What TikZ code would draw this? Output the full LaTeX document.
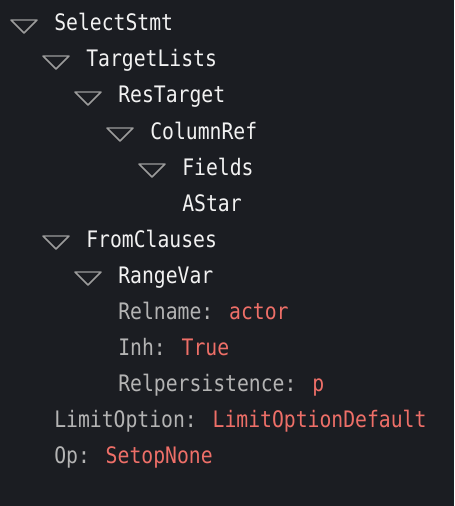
\documentclass[tikz,border=0pt]{standalone}
\usepackage{fontspec}
\newfontfamily\codefont{DejaVu Sans Mono}
\definecolor{bgdark}{HTML}{1B1D22}
\definecolor{nodewhite}{HTML}{F2F2F2}
\definecolor{keygray}{HTML}{B4B4B4}
\definecolor{valred}{HTML}{EE6F68}
\definecolor{trigray}{HTML}{9C9C9C}
\tikzset{
  item/.style={anchor=base west, inner sep=0pt, text=nodewhite,
               font=\codefont\fontsize{14.8pt}{16pt}\selectfont,
               yscale=1.15, transform shape},
  field/.style={item, text=keygray},
  toggle/.style={draw=trigray, line width=1.1pt, line join=round}
}
\newcommand{\val}[1]{\textcolor{valred}{#1}}
\newcommand{\opener}[2]{\draw[toggle] (#1-44,#2-11) -- ++(26,0) -- ++(-13,13) -- cycle;}
\begin{document}
\begin{tikzpicture}[x=0.75pt, y=-0.75pt]
    \fill[bgdark] (0,0) rectangle (454,506);
    \useasboundingbox (0,0) rectangle (454,506);

    \draw (54,31) node [item] (sel) {SelectStmt};
    \opener{55}{31}
    \draw (86,67) node [item] (tlists) {TargetLists};
    \opener{87}{67}
    \draw (118,103) node [item] (restgt) {ResTarget};
    \opener{119}{103}
    \draw (150,139) node [item] (colref) {ColumnRef};
    \opener{151}{139}
    \draw (182,175) node [item] (fields) {Fields};
    \opener{183}{175}
    \draw (182,211) node [item] (astar) {AStar};

    \draw (86,247) node [item] (from) {FromClauses};
    \opener{87}{247}
    \draw (118,283) node [item] (rvar) {RangeVar};
    \opener{119}{283}
    \draw (118,319) node [field] (relname) {Relname: \val{actor}};
    \draw (118,355) node [field] (inh) {Inh: \val{True}};
    \draw (118,391) node [field] (relpers) {Relpersistence: \val{p}};

    \draw (54,427) node [field] (limopt) {LimitOption: \val{LimitOptionDefault}};
    \draw (54,463) node [field] (op) {Op: \val{SetopNone}};
\end{tikzpicture}
\end{document}
